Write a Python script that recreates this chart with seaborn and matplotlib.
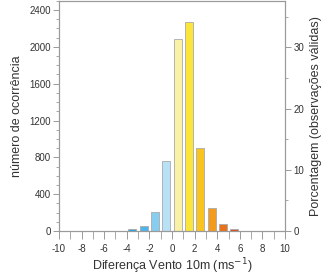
import matplotlib
matplotlib.use("Agg")
import matplotlib.pyplot as plt
import seaborn as sns
import pandas as pd
import numpy as np
from matplotlib.ticker import MultipleLocator

sns.set_style("white")
plt.rcParams['font.family'] = ['Liberation Sans', 'DejaVu Sans']

centers = [-9.5, -8.5, -7.5, -6.5, -5.5, -4.5, -3.5, -2.5, -1.5, -0.5,
           0.5, 1.5, 2.5, 3.5, 4.5, 5.5, 6.5, 7.5, 8.5, 9.5]
counts = [0, 0, 0, 2, 0, 3, 18, 54, 202, 760,
          2086, 2266, 902, 252, 72, 22, 5, 5, 0, 0]
colors = ['#0d5fa8', '#1068b3', '#1374bd', '#1a7fc6', '#1d8bd0', '#1f97d9',
          '#29a3e0', '#4db5ea', '#88ccef', '#b9e1f5',
          '#f9f1a5', '#fbe43b', '#f9c420', '#f29b1c', '#e8711b', '#dc4e1f',
          '#cc3b2a', '#c03030', '#a52020', '#901818']
xticks = [-10, -8, -6, -4, -2, 0, 2, 4, 6, 8, 10]

df = pd.DataFrame({'x': centers, 'n': counts, 'c': [str(c) for c in centers]})

fig = plt.figure(figsize=(3.33, 2.77), dpi=100)
ax = fig.add_axes([0.177, 0.166, 0.679, 0.831])

sns.barplot(data=df, x='x', y='n', hue='c', palette=colors, native_scale=True,
            width=0.7, legend=False, edgecolor='#aaaaaa', linewidth=0.6,
            ax=ax, dodge=False, saturation=1)

txt = '#333333'
ax.set_xlim(-10, 10)
ax.set_ylim(0, 2500)
ax.set_xticks(xticks)
ax.set_xticklabels([str(t) for t in xticks])
ax.xaxis.set_minor_locator(MultipleLocator(1))
ax.set_yticks([0, 400, 800, 1200, 1600, 2000, 2400])
ax.yaxis.set_minor_locator(MultipleLocator(100))
ax.set_xlabel('Diferença Vento 10m (ms$^{-1}$)', fontsize=9, color=txt, labelpad=1.5)
ax.set_ylabel('número de ocorrência', fontsize=9, color=txt, labelpad=4)

total = sum(counts)
ax2 = ax.twinx()
ax2.set_ylim(0, 2500 / total * 100)
ax2.set_yticks([0, 10, 20, 30])
ax2.yaxis.set_minor_locator(MultipleLocator(5))
ax2.set_ylabel('Porcentagem (observações válidas)', fontsize=9, color=txt, labelpad=4)

for a in (ax, ax2):
    for s in a.spines.values():
        s.set_color('#9a9a9a')
        s.set_linewidth(0.8)
    a.tick_params(which='major', direction='out', length=4, width=0.7,
                  color='#9a9a9a', labelsize=7, labelcolor=txt, pad=2)
    a.tick_params(which='minor', direction='out', length=2, width=0.6,
                  color='#9a9a9a')
ax.tick_params(axis='x', which='both', bottom=True, length=6, pad=3.5)
ax.tick_params(axis='y', which='both', left=True)
ax2.tick_params(axis='y', which='both', right=True)

fig.savefig('out.png', dpi=100)
